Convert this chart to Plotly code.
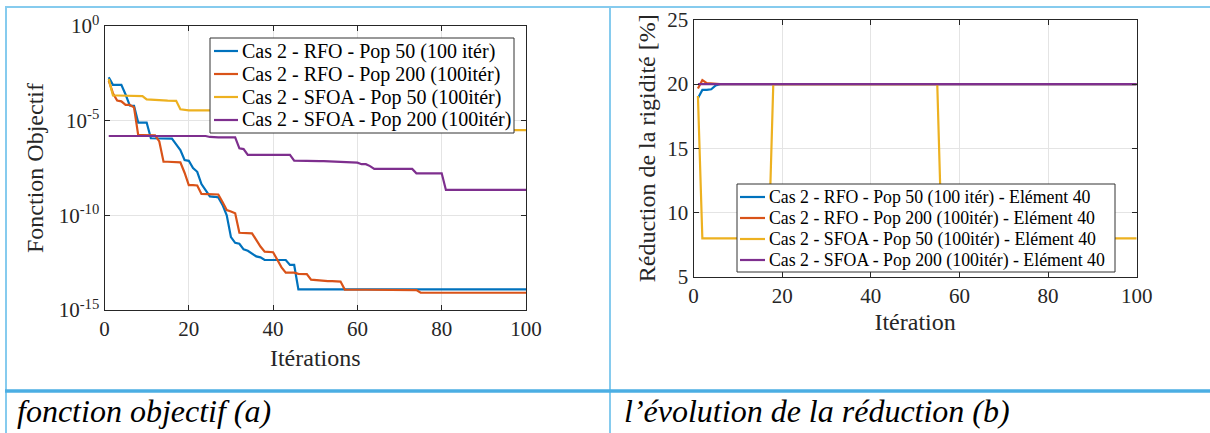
import plotly.graph_objects as go

W, H = 1210, 433

iterations = list(range(1, 101))

# ---- (a) objective function, stored as log10 values ----
rfo_pop50_log = [
    -2.71, -3.11, -3.11, -3.11, -3.62, -4.20, -4.22, -5.10, -5.10, -5.10,
    -5.93, -5.93, -5.93, -5.93, -5.93, -5.95, -6.25, -6.55, -7.08, -7.12,
    -7.50, -7.70, -8.35, -8.70, -9.00, -9.02, -9.05, -9.45, -10.00, -11.15,
    -11.45, -11.50, -11.80, -11.87, -12.00, -12.17, -12.22, -12.36, -12.36, -12.36,
    -12.36, -12.36, -12.36, -12.62, -12.62, -13.91, -13.91, -13.91, -13.91, -13.91,
    -13.91, -13.91, -13.91, -13.91, -13.91, -13.91, -13.91, -13.91, -13.91, -13.91,
    -13.91, -13.91, -13.91, -13.91, -13.91, -13.91, -13.91, -13.91, -13.91, -13.91,
    -13.91, -13.91, -13.91, -13.91, -13.91, -13.91, -13.91, -13.91, -13.91, -13.91,
    -13.91, -13.91, -13.91, -13.91, -13.91, -13.91, -13.91, -13.91, -13.91, -13.91,
    -13.91, -13.91, -13.91, -13.91, -13.91, -13.91, -13.91, -13.91, -13.91, -13.91,
]
rfo_pop200_log = [
    -2.89, -3.55, -3.94, -3.98, -4.17, -4.17, -4.30, -5.76, -5.76, -5.76,
    -5.76, -5.78, -6.10, -7.17, -7.17, -7.17, -7.17, -7.20, -7.75, -8.40,
    -8.40, -8.42, -8.87, -8.87, -8.87, -8.87, -8.90, -9.30, -9.72, -9.80,
    -9.89, -10.92, -10.92, -10.92, -10.95, -11.30, -11.65, -11.92, -11.92, -11.95,
    -12.35, -12.75, -13.03, -13.03, -13.03, -13.09, -13.09, -13.10, -13.40, -13.42,
    -13.45, -13.48, -13.48, -13.48, -13.48, -13.50, -13.92, -13.93, -13.93, -13.93,
    -13.93, -13.93, -13.93, -13.93, -13.93, -13.93, -13.93, -13.93, -13.93, -13.93,
    -13.93, -13.93, -13.93, -13.95, -14.09, -14.09, -14.09, -14.09, -14.09, -14.09,
    -14.09, -14.09, -14.09, -14.09, -14.09, -14.09, -14.09, -14.09, -14.09, -14.09,
    -14.09, -14.09, -14.09, -14.09, -14.09, -14.09, -14.09, -14.09, -14.09, -14.09,
]
sfoa_pop50_log = [
    -2.80, -3.67, -3.67, -3.67, -3.67, -3.67, -3.67, -3.67, -3.70, -3.88,
    -3.90, -3.92, -3.93, -3.93, -3.94, -3.95, -3.95, -4.40, -4.44, -4.46,
    -4.46, -4.46, -4.46, -4.46, -4.46, -4.46, -4.46, -4.46, -4.46, -4.46,
    -4.46, -4.46, -4.46, -4.46, -4.46, -4.46, -4.46, -4.46, -4.46, -4.46,
    -4.85, -4.85, -4.85, -4.85, -4.85, -4.85, -4.85, -4.85, -4.85, -4.85,
    -4.85, -4.85, -4.85, -4.85, -4.85, -4.85, -4.85, -4.85, -4.85, -4.85,
    -5.15, -5.15, -5.15, -5.15, -5.15, -5.15, -5.15, -5.15, -5.15, -5.15,
    -5.15, -5.15, -5.15, -5.15, -5.15, -5.15, -5.15, -5.15, -5.15, -5.15,
    -5.50, -5.50, -5.50, -5.50, -5.50, -5.50, -5.50, -5.50, -5.50, -5.50,
    -5.50, -5.50, -5.50, -5.50, -5.50, -5.50, -5.50, -5.50, -5.50, -5.50,
]
sfoa_pop200_log = [
    -5.81, -5.81, -5.81, -5.81, -5.81, -5.81, -5.81, -5.81, -5.81, -5.81,
    -5.81, -5.81, -5.81, -5.81, -5.81, -5.81, -5.81, -5.81, -5.81, -5.81,
    -5.81, -5.81, -5.81, -5.81, -5.86, -5.88, -5.88, -5.88, -5.88, -5.88,
    -5.88, -6.46, -6.50, -6.81, -6.81, -6.81, -6.81, -6.81, -6.81, -6.81,
    -6.81, -6.81, -6.81, -6.81, -7.11, -7.12, -7.12, -7.12, -7.13, -7.13,
    -7.14, -7.14, -7.15, -7.15, -7.16, -7.17, -7.18, -7.19, -7.20, -7.22,
    -7.30, -7.30, -7.40, -7.55, -7.55, -7.55, -7.55, -7.55, -7.55, -7.55,
    -7.55, -7.55, -7.55, -7.78, -7.78, -7.78, -7.78, -7.78, -7.78, -7.78,
    -8.66, -8.66, -8.66, -8.66, -8.66, -8.66, -8.66, -8.66, -8.66, -8.66,
    -8.66, -8.66, -8.66, -8.66, -8.66, -8.66, -8.66, -8.66, -8.66, -8.66,
]

# ---- (b) stiffness reduction of element 40 [%] ----
red_rfo_pop50 = [
    18.90, 19.55, 19.55, 19.60, 19.90, 20.00, 20.00, 20.00, 20.00, 20.00,
    20.00, 20.00, 20.00, 20.00, 20.00, 20.00, 20.00, 20.00, 20.00, 20.00,
    20.00, 20.00, 20.00, 20.00, 20.00, 20.00, 20.00, 20.00, 20.00, 20.00,
    20.00, 20.00, 20.00, 20.00, 20.00, 20.00, 20.00, 20.00, 20.00, 20.00,
    20.00, 20.00, 20.00, 20.00, 20.00, 20.00, 20.00, 20.00, 20.00, 20.00,
    20.00, 20.00, 20.00, 20.00, 20.00, 20.00, 20.00, 20.00, 20.00, 20.00,
    20.00, 20.00, 20.00, 20.00, 20.00, 20.00, 20.00, 20.00, 20.00, 20.00,
    20.00, 20.00, 20.00, 20.00, 20.00, 20.00, 20.00, 20.00, 20.00, 20.00,
    20.00, 20.00, 20.00, 20.00, 20.00, 20.00, 20.00, 20.00, 20.00, 20.00,
    20.00, 20.00, 20.00, 20.00, 20.00, 20.00, 20.00, 20.00, 20.00, 20.00,
]
red_rfo_pop200 = [
    19.66, 20.31, 20.08, 20.05, 20.00, 20.00, 20.00, 20.00, 20.00, 20.00,
    20.00, 20.00, 20.00, 20.00, 20.00, 20.00, 20.00, 20.00, 20.00, 20.00,
    20.00, 20.00, 20.00, 20.00, 20.00, 20.00, 20.00, 20.00, 20.00, 20.00,
    20.00, 20.00, 20.00, 20.00, 20.00, 20.00, 20.00, 20.00, 20.00, 20.00,
    20.00, 20.00, 20.00, 20.00, 20.00, 20.00, 20.00, 20.00, 20.00, 20.00,
    20.00, 20.00, 20.00, 20.00, 20.00, 20.00, 20.00, 20.00, 20.00, 20.00,
    20.00, 20.00, 20.00, 20.00, 20.00, 20.00, 20.00, 20.00, 20.00, 20.00,
    20.00, 20.00, 20.00, 20.00, 20.00, 20.00, 20.00, 20.00, 20.00, 20.00,
    20.00, 20.00, 20.00, 20.00, 20.00, 20.00, 20.00, 20.00, 20.00, 20.00,
    20.00, 20.00, 20.00, 20.00, 20.00, 20.00, 20.00, 20.00, 20.00, 20.00,
]
red_sfoa_pop50 = [
    19.07, 7.97, 7.97, 7.97, 7.97, 7.97, 7.97, 7.97, 7.97, 7.97,
    7.97, 7.97, 7.97, 7.97, 7.97, 7.97, 7.97, 20.00, 20.00, 20.00,
    20.00, 20.00, 20.00, 20.00, 20.00, 20.00, 20.00, 20.00, 20.00, 20.00,
    20.00, 20.00, 20.00, 20.00, 20.00, 20.00, 20.00, 20.00, 20.00, 20.00,
    20.00, 20.00, 20.00, 20.00, 20.00, 20.00, 20.00, 20.00, 20.00, 20.00,
    20.00, 20.00, 20.00, 20.00, 20.00, 7.97, 7.97, 7.97, 7.97, 7.97,
    7.97, 7.97, 7.97, 7.97, 7.97, 7.97, 7.97, 7.97, 7.97, 7.97,
    7.97, 7.97, 7.97, 7.97, 7.97, 7.97, 7.97, 7.97, 7.97, 7.97,
    7.97, 7.97, 7.97, 7.97, 7.97, 7.97, 7.97, 7.97, 7.97, 7.97,
    7.97, 7.97, 7.97, 7.97, 7.97, 7.97, 7.97, 7.97, 7.97, 7.97,
]
red_sfoa_pop200 = [
    20.00, 20.00, 20.00, 20.00, 20.00, 20.00, 20.00, 20.00, 20.00, 20.00,
    20.00, 20.00, 20.00, 20.00, 20.00, 20.00, 20.00, 20.00, 20.00, 20.00,
    20.00, 20.00, 20.00, 20.00, 20.00, 20.00, 20.00, 20.00, 20.00, 20.00,
    20.00, 20.00, 20.00, 20.00, 20.00, 20.00, 20.00, 20.00, 20.00, 20.00,
    20.00, 20.00, 20.00, 20.00, 20.00, 20.00, 20.00, 20.00, 20.00, 20.00,
    20.00, 20.00, 20.00, 20.00, 20.00, 20.00, 20.00, 20.00, 20.00, 20.00,
    20.00, 20.00, 20.00, 20.00, 20.00, 20.00, 20.00, 20.00, 20.00, 20.00,
    20.00, 20.00, 20.00, 20.00, 20.00, 20.00, 20.00, 20.00, 20.00, 20.00,
    20.00, 20.00, 20.00, 20.00, 20.00, 20.00, 20.00, 20.00, 20.00, 20.00,
    20.00, 20.00, 20.00, 20.00, 20.00, 20.00, 20.00, 20.00, 20.00, 20.00,
]

labels_a = [
    "Cas 2 - RFO - Pop 50 (100 itér)",
    "Cas 2 - RFO - Pop 200 (100itér)",
    "Cas 2 - SFOA - Pop 50 (100itér)",
    "Cas 2 - SFOA - Pop 200 (100itér)",
]
labels_b = [lab + " - Elément 40" for lab in labels_a]

x_ticks = [0, 20, 40, 60, 80, 100]
y_ticks_a = [-15, -10, -5, 0]
y_ticks_b = [5, 10, 15, 20, 25]

colors = ["#0072BD", "#D95319", "#EDB120", "#7E2F8E"]
FONT = "Liberation Serif"
INK = "#262626"
GRID = "#e4e4e4"
LINE_W = 2.2


def px_x(x):
    return x / W


def px_y(y):
    return 1 - y / H


fig = go.Figure()

series_a = [rfo_pop50_log, rfo_pop200_log, sfoa_pop50_log, sfoa_pop200_log]
for lab, vals, col in zip(labels_a, series_a, colors):
    fig.add_trace(go.Scatter(
        x=iterations, y=[10 ** v for v in vals], mode="lines",
        line=dict(color=col, width=LINE_W), name=lab,
        xaxis="x", yaxis="y", showlegend=False,
    ))

series_b = [red_rfo_pop50, red_rfo_pop200, red_sfoa_pop50, red_sfoa_pop200]
for lab, vals, col in zip(labels_b, series_b, colors):
    fig.add_trace(go.Scatter(
        x=iterations, y=vals, mode="lines",
        line=dict(color=col, width=LINE_W), name=lab,
        xaxis="x2", yaxis="y2", showlegend=False,
    ))

axis_common = dict(
    showline=True, linecolor=INK, linewidth=1, mirror="ticks",
    ticks="inside", ticklen=5, tickcolor=INK,
    showgrid=True, gridcolor=GRID, gridwidth=1, zeroline=False,
    automargin=False,
    tickfont=dict(family=FONT, size=21, color=INK),
)
title_font = dict(family=FONT, size=24, color=INK)

fig.update_layout(
    template="none",
    width=W, height=H, autosize=False,
    margin=dict(l=0, r=0, t=0, b=0, pad=0),
    paper_bgcolor="white", plot_bgcolor="white",
    font=dict(family=FONT, color=INK),
    showlegend=False,
    xaxis=dict(
        domain=[px_x(104.5), px_x(526)], anchor="y", range=[0, 100],
        tickvals=x_ticks,
        title=dict(text="Itérations", font=title_font, standoff=8),
        **axis_common,
    ),
    yaxis=dict(
        domain=[px_y(310), px_y(26)], anchor="x", type="log", range=[-15, 0],
        tickvals=[10 ** e for e in y_ticks_a],
        ticktext=[f"10<sup>{e}</sup>" for e in y_ticks_a],
        title=dict(text="Fonction Objectif", font=title_font, standoff=8),
        **axis_common,
    ),
    xaxis2=dict(
        domain=[px_x(693.5), px_x(1136.7)], anchor="y2", range=[0, 100],
        tickvals=x_ticks,
        title=dict(text="Itération", font=title_font, standoff=6),
        **axis_common,
    ),
    yaxis2=dict(
        domain=[px_y(276.5), px_y(20)], anchor="x2", range=[5, 25],
        tickvals=y_ticks_b,
        title=dict(text="Réduction de la rigidité [%]", font=title_font, standoff=4),
        **axis_common,
    ),
)


def add_legend_box(box, rows_y, sample_x, text_x, labels, size):
    """Boxed legend: white frame, short line samples and the series names."""
    x0, y0, x1, y1 = box
    fig.add_shape(type="rect", xref="paper", yref="paper",
                  x0=px_x(x0), x1=px_x(x1), y0=px_y(y1), y1=px_y(y0),
                  fillcolor="white", line=dict(color="#333333", width=1), layer="above")
    for yy, lab, col in zip(rows_y, labels, colors):
        fig.add_shape(type="line", xref="paper", yref="paper",
                      x0=px_x(sample_x[0]), x1=px_x(sample_x[1]), y0=px_y(yy), y1=px_y(yy),
                      line=dict(color=col, width=LINE_W), layer="above")
        fig.add_annotation(x=px_x(text_x), y=px_y(yy), xref="paper", yref="paper",
                           xanchor="left", yanchor="middle", showarrow=False,
                           text=lab, font=dict(family=FONT, size=size, color="black"))


add_legend_box((210, 38, 514, 133), [51, 74, 97, 120], (214, 238), 240, labels_a, 20)
add_legend_box((737, 184, 1115, 272), [197, 218, 239, 260], (740, 765), 767, labels_b, 17.8)

# Table frame around the two panels
frame_light = "#86CBEE"
frame_strong = "#4BAEE3"
frame_lines = [
    ((5, 7), (1210, 7), frame_light, 2),
    ((6, 6), (6, 433), frame_light, 2),
    ((610, 6), (610, 433), frame_light, 2),
    ((5, 391), (1210, 391), frame_strong, 3.5),
]
for (xa, ya), (xb, yb), col, wd in frame_lines:
    fig.add_shape(type="line", xref="paper", yref="paper",
                  x0=px_x(xa), x1=px_x(xb), y0=px_y(ya), y1=px_y(yb),
                  line=dict(color=col, width=wd), layer="above")

# Cell captions
captions = [
    (15, "<i>fonction objectif (a)</i>"),
    (622, "<i>l’évolution de la réduction (b)</i>"),
]
for x0, txt in captions:
    fig.add_annotation(
        x=px_x(x0), y=px_y(411), xref="paper", yref="paper",
        xanchor="left", yanchor="middle", showarrow=False,
        text=txt, font=dict(family=FONT, size=32, color="black"),
    )

fig.write_html("out.html")
